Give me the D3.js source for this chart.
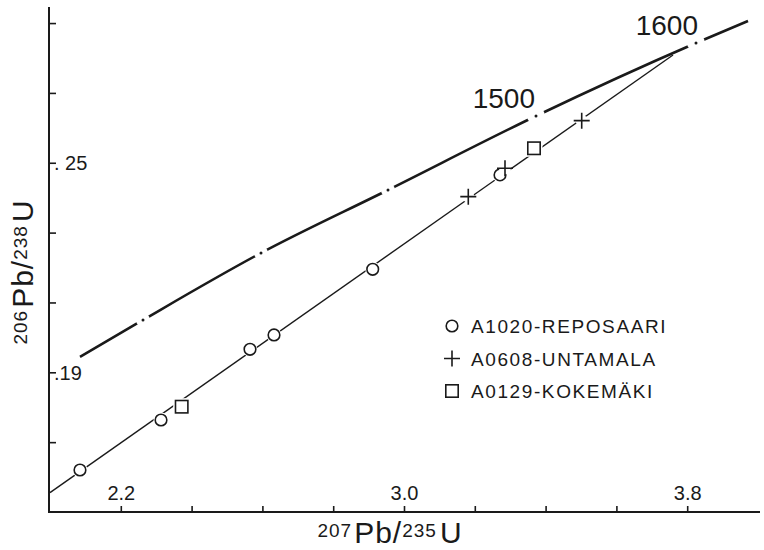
<!DOCTYPE html>
<html>
<head>
<meta charset="utf-8">
<script src="https://cdn.jsdelivr.net/npm/d3@7"></script>
<style>
  html, body { margin: 0; padding: 0; background: #fff; }
  svg { display: block; }
  text { font-family: "Liberation Sans", Arial, sans-serif; fill: #1a1a1a; }
</style>
</head>
<body>
<svg id="chart" width="764" height="550"></svg>
<script>
// ---------------- data ----------------
// Concordia curve (207Pb/235U, 206Pb/238U) sample points
const concordiaX = [2.0847, 2.2627, 2.5960, 2.9548, 3.3729, 3.8249, 3.9718];
const concordiaY = [0.19439, 0.20498, 0.22417, 0.24221, 0.26340, 0.28431, 0.29061];
// Age marks on the concordia (Ma)
const ageMarks  = [1200, 1300, 1400, 1500, 1600];
const ageMarkX  = [2.2627, 2.5960, 2.9548, 3.3729, 3.8249];
const ageMarkY  = [0.20498, 0.22417, 0.24221, 0.26340, 0.28431];
const ageLabels = ["", "", "", "1500", "1600"];
// Discordia end points
const discordiaX = [2.0, 3.7599];
const discordiaY = [0.15553, 0.28087];
// Samples
const reposaariX = [2.0847, 2.3136, 2.5650, 2.6328, 2.9116, 3.2712];
const reposaariY = [0.16203, 0.17635, 0.19659, 0.20069, 0.21950, 0.24651];
const untamalaX  = [3.1816, 3.2853, 3.5020];
const untamalaY  = [0.24029, 0.24843, 0.26206];
const kokemakiX  = [2.3720, 3.3672];
const kokemakiY  = [0.18015, 0.25415];
// Legend
const seriesNames = ["A1020-REPOSAARI", "A0608-UNTAMALA", "A0129-KOKEMÄKI"];
const seriesShapes = ["circle", "plus", "square"];
// Ticks
const xTickValues = [2.2, 2.4, 2.6, 2.8, 3.0, 3.2, 3.4, 3.6, 3.8];
const xTickLabels = ["2.2", "", "", "", "3.0", "", "", "", "3.8"];
const yTickValues = [0.17, 0.19, 0.21, 0.23, 0.25, 0.27, 0.29];
const yTickLabels = ["", ".19", "", "", ". 25", "", ""];

// ---------------- layout ----------------
const svg = d3.select("#chart");
const x = d3.scaleLinear().domain([2.0, 4.0]).range([50, 758]);
const y = d3.scaleLinear().domain([0.15, 0.2946]).range([512, 7]);
const ink = "#1a1a1a";

// axes
const xAxis = d3.axisBottom(x).tickValues(xTickValues).tickSize(-6).tickSizeOuter(0)
  .tickFormat((d, i) => xTickLabels[i]);
const gx = svg.append("g").attr("transform", `translate(0,${y(0.15)})`).call(xAxis);
gx.attr("font-size", null).attr("font-family", null);
gx.select(".domain").attr("stroke", ink).attr("stroke-width", 2)
  .attr("d", `M${x(2.0) - 1},0H${x(4.0) + 2}`);
gx.selectAll(".tick line").attr("stroke", ink).attr("stroke-width", 1.6);
gx.selectAll(".tick text").attr("y", -12).attr("dy", 0)
  .style("font-size", "20px").attr("fill", ink);

const yAxis = d3.axisLeft(y).tickValues(yTickValues).tickSize(-7).tickSizeOuter(0)
  .tickFormat((d, i) => yTickLabels[i]);
const gy = svg.append("g").attr("transform", `translate(${x(2.0) - 1},0)`).call(yAxis);
gy.attr("font-size", null).attr("font-family", null);
gy.select(".domain").attr("stroke", ink).attr("stroke-width", 2)
  .attr("d", `M0,${y(0.2946)}V${y(0.15) + 1}`);
gy.selectAll(".tick line").attr("stroke", ink).attr("stroke-width", 1.6);
gy.selectAll(".tick text").attr("x", 5).attr("dy", "0.36em").attr("text-anchor", "start")
  .style("font-size", "20px").attr("fill", ink);

// ---------------- discordia ----------------
svg.append("line")
  .attr("x1", x(discordiaX[0])).attr("y1", y(discordiaY[0]))
  .attr("x2", x(discordiaX[1])).attr("y2", y(discordiaY[1]))
  .attr("stroke", ink).attr("stroke-width", 1.4);

// ---------------- concordia ----------------
const concordiaPts = concordiaX.map((v, i) => [x(v), y(concordiaY[i])]);
svg.append("path")
  .attr("d", d3.line().curve(d3.curveMonotoneX)(concordiaPts))
  .attr("fill", "none").attr("stroke", ink).attr("stroke-width", 2.6);

// gaps and dots at age marks
ageMarks.forEach((a, i) => {
  const cx = x(ageMarkX[i]), cy = y(ageMarkY[i]);
  const r = a >= 1500 ? 9 : 7;
  svg.append("circle").attr("cx", cx).attr("cy", cy).attr("r", r).attr("fill", "#fff");
  svg.append("circle").attr("cx", cx).attr("cy", cy).attr("r", 1.5).attr("fill", ink);
  if (ageLabels[i]) {
    svg.append("text").attr("x", cx + (a === 1600 ? 2 : -1)).attr("y", cy - 8)
      .attr("text-anchor", "end").style("font-size", "28px").text(ageLabels[i]);
  }
});

// ---------------- markers ----------------
function drawMarker(g, shape, cx, cy) {
  if (shape === "circle") {
    g.append("circle").attr("cx", cx).attr("cy", cy).attr("r", 7.5).attr("fill", "#fff");
    g.append("circle").attr("cx", cx).attr("cy", cy).attr("r", 5.8)
      .attr("fill", "#fff").attr("stroke", ink).attr("stroke-width", 1.6);
  } else if (shape === "square") {
    g.append("rect").attr("x", cx - 8.5).attr("y", cy - 8.5).attr("width", 17).attr("height", 17).attr("fill", "#fff");
    g.append("rect").attr("x", cx - 6.2).attr("y", cy - 6.2).attr("width", 12.4).attr("height", 12.4)
      .attr("fill", "#fff").attr("stroke", ink).attr("stroke-width", 1.6);
  } else {
    g.append("circle").attr("cx", cx).attr("cy", cy).attr("r", 6).attr("fill", "#fff");
    g.append("path").attr("d", `M${cx - 8},${cy}H${cx + 8}M${cx},${cy - 8}V${cy + 8}`)
      .attr("stroke", ink).attr("stroke-width", 1.6).attr("fill", "none");
  }
}
const gm = svg.append("g");
reposaariX.forEach((v, i) => drawMarker(gm, "circle", x(v), y(reposaariY[i])));
kokemakiX.forEach((v, i) => drawMarker(gm, "square", x(v), y(kokemakiY[i])));
untamalaX.forEach((v, i) => drawMarker(gm, "plus", x(v), y(untamalaY[i])));

// ---------------- legend ----------------
const lg = svg.append("g");
seriesNames.forEach((name, i) => {
  const ly = 326 + i * 32.5;
  drawMarker(lg, seriesShapes[i], 452, ly);
  lg.append("text").attr("x", 471).attr("y", ly + 7)
    .style("font-size", "19px").style("letter-spacing", "1.6px").text(name);
});

// ---------------- axis titles ----------------
function isotopeLabel(sel, a, b, c, d) {
  sel.append("tspan").style("font-size", "19px").attr("dy", -6).text(a);
  sel.append("tspan").style("font-size", "30px").attr("dy", 6).attr("dx", 2).text(b);
  sel.append("tspan").style("font-size", "30px").text("/");
  sel.append("tspan").style("font-size", "19px").attr("dy", -6).text(c);
  sel.append("tspan").style("font-size", "30px").attr("dy", 6).attr("dx", 3).text(d);
}
const xt = svg.append("text").attr("x", 390).attr("y", 543).attr("text-anchor", "middle")
  .style("letter-spacing", "1px");
isotopeLabel(xt, "207", "Pb", "235", "U");
const yt = svg.append("text").attr("transform", "translate(33,272) rotate(-90)")
  .attr("text-anchor", "middle").style("letter-spacing", "1px");
isotopeLabel(yt, "206", "Pb", "238", "U");
</script>
</body>
</html>
